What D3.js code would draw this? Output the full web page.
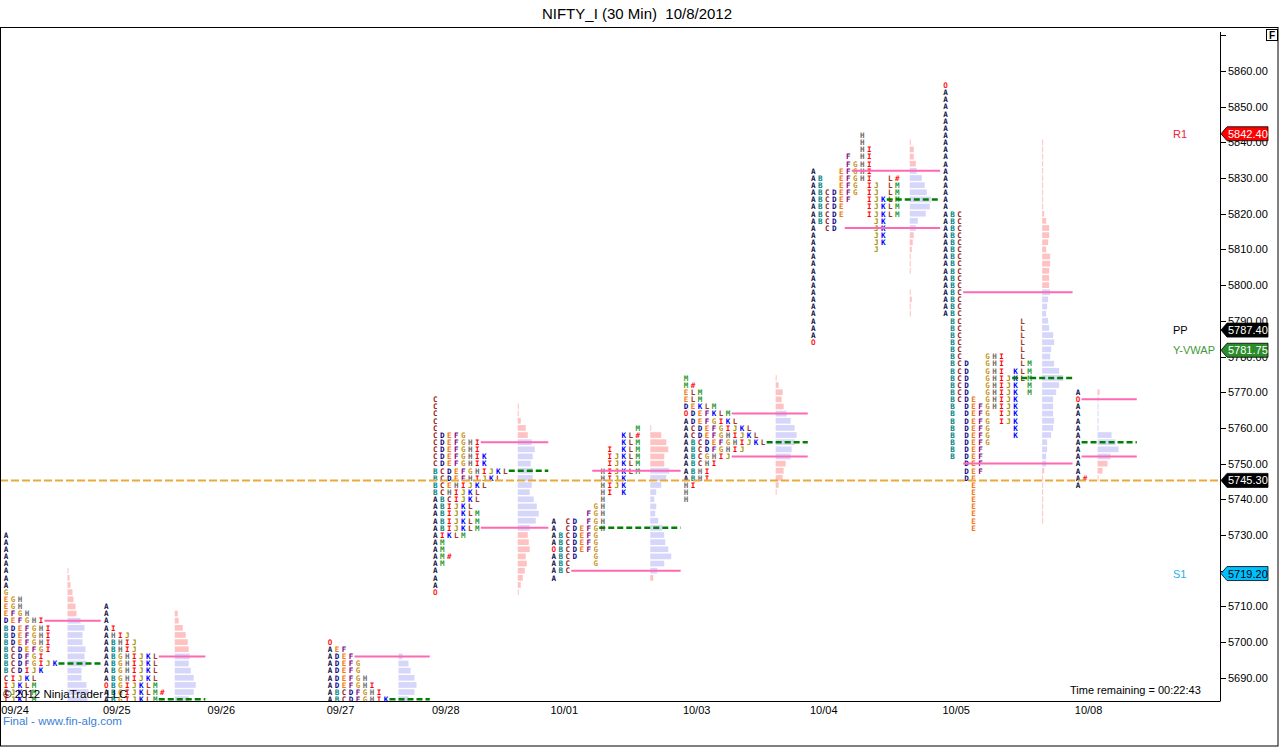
<!DOCTYPE html>
<html><head><meta charset="utf-8">
<script src="https://cdn.jsdelivr.net/npm/d3@7"></script>
<style>body{margin:0;background:#fff}svg{display:block}</style>
</head><body>
<svg id="c" width="1280" height="747"></svg>
<script>
// ---------------- DATA ----------------
const title = "NIFTY_I (30 Min)  10/8/2012";
const dayLabels = ["09/24","09/25","09/26","09/27","09/28","10/01","10/03","10/04","10/05","10/08"];
const dayBarPos = [0,16.2,32,50,65.9,83.8,103.8,123,143,163];   // 30-min bar index of each session start
const sessionEndPos = 172.7;
const priceTicks = d3.range(5690, 5861, 10);
const topTick = 5870;

// TPO rows (top row first, 2-point rows)
const tpo0924 = ["A","A","A","A","A","A","A","A","G","EGH","EGH","EFGH","DEFGHI","BDEFGHI","BDEFGHI","BDEFGHI","BCDEFGI","BCDFGI","BCDFGIJK","BCDIJK","CIJKL","IJKLM","IJKLM","IJKLM"];
const tpo0925 = ["A","A","A","AI","AHIJ","ABHIJ","ABHIJ","ABGHIJKL","ABGHIJKL","ABGHIJKL","ABGHIJKL","OBGIJKLM","ABGIJKLM#","ABGIJKLM"];
const tpo0927 = ["O","AEF","ADEF","ADEFG","ADEFG","ADEFGH","ADEFGHI","ABCDFGHI","ABCDFGHIK"];
const tpo0928 = ["C","C","C","C","C","CDEFG","CDEFGHI","CDEFGHI","CDEFGHIK","CDEFGHIK","BCDEFGHIJKL","BCDEFHIJKL","BCEHIJKL","BCHIJKL","ABCIJKL","ABIJKL","ABIJKLM","ABIJKLM","ABIJKLM","AIKLM","AM","AM","AM#","AM","A","A","A","O"];
const tpo1001 = ["M","KL#","KLM","IKLM","IJKLM","IJKLM","HIJKLM","HIJK","HIJK","HIK","H","GH","FGH","ACDFGH","ACDEFGH","ABCDEFG","ABCDEFG","OBCDEFG","ABCDG","ABCG","ABC","A"];
const tpo1003 = ["M","M#","ELM","ELM","DEKLM","ODEFKLM","ADEFGIKL","ACDEFGIJKL","ACDEFGHIJKL","ABCDEFGHIJKL","ABCDFGHIJ","ABCGHIJ","ABCHI","ABHI","ABHI","HI","H","H"];
const tpo1004 = ["H","H","HI","FHI","FGHI","AEFGHI","ABEFGHIL#","ABEFGIJLM","ABCDEFGIJLM","ABCDEFIJKLM","ABCDEIJKLM","ABCDEIJKLM","ABCDJK","ACDJK","AJK","AJK","AJ",
  "A","A","A","A","A","A","A","A","A","A","A","A","O"];
const tpo1005 = ["O","A","A","A","A","A","A","A","A","A","A","A","A","A","A","A","A","A",
  "ABC","ABC","ABC","ABC","ABC","ABC","ABC","ABC","ABC","ABC","ABC","ABC","ABC","ABC","ABC",
  "BCL","BCL","BCL","BCL","BCL","BCGHIL","BCDGHILM","BCDGHIKLM","BCDGHIJKLM","BCDGHIJKM","BCDGHIJKM","BCDEGHIJK","BDEFGHIJK","BDEFGIJK","BDEFGIJK","BDEFGK","BDEFGK","BDEFG","BDEF","BDEF","DEF","DEF","DE",
  "E","E","E","E","E","E","E"];
const tpo1008 = ["A","O","A","A","A","A","A","A","A","A","A","A","A#","A"];

const tpoTop     = [5730,5710,5700,5768,5760,5774,5842,5856,5770];
const spreadMode = [false,false,false,false,true,false,true,true,false];
const colOffset  = [1,0,0,0,0,0,0,0,0];   // 09/24 opening column lies left of the chart edge
const profileDay = [0,1,3,4,5,6,7,8,9];

// volume histogram (top row first)
const hist0924 = [1,2,3,5,6,8,9,13,17,15,15,18,17,19,14,14,19,21,20];
const hist0925 = [3,4,8,11,13,14,15,14,16,19,21,19,14];
const hist0927 = [4,10,12,16,18,16,10];
const hist0928 = [1,1,3,8,10,14,17,15,13,15,15,14,12,16,19,21,18,12,10,11,12,8,9,7,5,3,1];
const hist1001 = [1,11,16,18,14,14,19,16,11,6,4,6,5,8,12,14,15,18,21,14,7,3];
const hist1003 = [1,3,7,6,8,11,15,19,21,19,16,15,10,8,7,3,1];
const hist1004 = [1,4,4,6,7,12,15,17,21,20,16,8,6,4,3,2,1,1,1,0,0,1,2,1,1];
const hist1005 = [1,1,1,1,1,1,1,1,1,1,2,4,7,7,6,4,8,8,7,7,7,8,6,5,4,6,7,11,12,9,8,12,17,21,17,14,11,11,11,12,11,9,5,5,4,4,2,1,1,1,1,1,1,1];
const hist1008 = [2,1,1,1,1,1,14,18,21,13,10,5,1];
const histTop = [5720,5708,5696,5766,5760,5774,5840,5840,5770];

const vaHigh = [5706,5696,5696,5756,5748,5764,5832,5798,5768];
const pocLvl = [5694,5684,5684,5748,5732,5756,5824,5774,5756];
const vaLow  = [5680,5680,5680,5732,5720,5752,5816,5750,5752];

const levelNames  = ["R1","PP","Y-VWAP","S1"];
const levelValues = [5842.40,5787.40,5781.75,5719.20];
const lastPrice = 5745.30;

// ---------------- STYLE ----------------
const letterColor = {A:"#14144c",B:"#00868b",C:"#9b1c1c",D:"#0a0a8c",E:"#f07810",F:"#800080",G:"#c8961e",H:"#6e6e6e",I:"#ff0000",J:"#a09000",K:"#0000ff",L:"#a0382a",M:"#2e9a2e",O:"#ff2020","#":"#ff2020"};
const levelText = ["#f02040","#000000","#3f9a3a","#1cb0ee"];
const levelFill = ["#ff0000","#000000","#2a8c2a","#00bfff"];
const levelTextFill = ["#ffffff","#ffffff","#ffffff","#000000"];
const FONT = "'Liberation Sans', Arial, sans-serif";

const tpos = [tpo0924,tpo0925,tpo0927,tpo0928,tpo1001,tpo1003,tpo1004,tpo1005,tpo1008];
const hists = [hist0924,hist0925,hist0927,hist0928,hist1001,hist1003,hist1004,hist1005,hist1008];

// ---------------- CHART ----------------
const svg = d3.select("#c");
const PL=0, PR=1220, PT=27, PB=701;
const y = d3.scaleLinear().domain([5683.5,5872.3]).range([PB,PT]);
const x = d3.scaleLinear().domain([0,185]).range([-4.5,-4.5+185*6.62]);
const volW = d3.scaleLinear().domain([0,21]).range([0,21]);
const COLW = 7;

svg.append("rect").attr("width",1280).attr("height",747).attr("fill","#fff");
svg.append("defs").append("clipPath").attr("id","clip")
  .append("rect").attr("x",PL).attr("y",PT).attr("width",PR-PL).attr("height",PB-PT);

svg.append("text").attr("x",637).attr("y",19).attr("text-anchor","middle")
  .style("white-space","pre").attr("font-family",FONT).attr("font-size",15).attr("fill","#000").text(title);

const plot = svg.append("g").attr("clip-path","url(#clip)");

function cellsOf(row, spread){
  const out=[]; let prev=-1;
  for(const ch of row){
    let c;
    if(!spread) c = out.length;
    else if(ch==="O") c = 0;
    else if(ch==="#") c = prev+1;
    else c = ch.charCodeAt(0)-65;
    out.push({ch,c}); prev=c;
  }
  return out;
}

const lineLayer = [];
profileDay.forEach((day,k)=>{
  const dx = x(dayBarPos[day]);
  const off = colOffset[k];
  const rows = tpos[k].map((r,i)=>({price:tpoTop[k]-2*i, cells:cellsOf(r,spreadMode[k]), n:r.length}));
  const maxCols = d3.max(rows, r=>d3.max(r.cells,c=>c.c+1)) + off;
  const hx = dx + maxCols*COLW + 9;
  const g = plot.append("g");
  const hdata = hists[k].map((v,i)=>({v, price:histTop[k]-2*i})).filter(d=>d.v>0);
  g.selectAll("rect.h").data(hdata).join("rect")
    .attr("x",hx).attr("y",d=>y(d.price+0.8))
    .attr("width",d=>volW(d.v)).attr("height",d=>y(d.price-0.8)-y(d.price+0.8))
    .attr("fill",d=>(d.price<=vaHigh[k] && d.price>=vaLow[k]) ? "#d6d6fa" : "#ffc2c2");
  const cells = [];
  rows.forEach(r=>r.cells.forEach(c=>cells.push({ch:c.ch,c:c.c+off,price:r.price})));
  g.selectAll("text").data(cells).join("text")
    .attr("x",d=>dx + d.c*COLW + 3.5).attr("y",d=>y(d.price)+2.8)
    .attr("text-anchor","middle").attr("font-family","'DejaVu Sans Mono', monospace")
    .attr("font-weight","bold").attr("font-size",7.6)
    .attr("fill",d=>letterColor[d.ch]).text(d=>d.ch);
  const nextX = day+1 < dayBarPos.length ? x(dayBarPos[day+1]) : x(sessionEndPos);
  const countAt = p => { const r = rows.find(r=>r.price===p); return r ? r.n + off : 0; };
  lineLayer.push({x1:dx+countAt(vaHigh[k])*COLW, x2:nextX-2, p:vaHigh[k], t:"va"});
  lineLayer.push({x1:dx+countAt(vaLow[k])*COLW, x2:nextX-2, p:vaLow[k], t:"va"});
  lineLayer.push({x1:dx+countAt(pocLvl[k])*COLW, x2:nextX-2, p:pocLvl[k], t:"poc"});
});

plot.append("g").selectAll("line").data(lineLayer).join("line")
  .attr("x1",d=>d.x1).attr("x2",d=>d.x2).attr("y1",d=>y(d.p)).attr("y2",d=>y(d.p))
  .attr("stroke",d=>d.t==="va"?"#ff69b4":"#008000")
  .attr("stroke-width",d=>d.t==="va"?2:2.5)
  .attr("stroke-dasharray",d=>d.t==="va"?null:"6,3");

plot.append("line").attr("x1",PL).attr("x2",PR).attr("y1",y(lastPrice)).attr("y2",y(lastPrice))
  .attr("stroke","#e8aa3c").attr("stroke-width",2).attr("stroke-dasharray","8,3");

// frames
svg.append("rect").attr("x",0.5).attr("y",27.5).attr("width",1277.5).attr("height",718.5)
  .attr("fill","none").attr("stroke","#000");
svg.append("line").attr("x1",0).attr("x2",PR).attr("y1",PB+0.5).attr("y2",PB+0.5).attr("stroke","#000");
svg.append("line").attr("x1",PR+0.5).attr("x2",PR+0.5).attr("y1",32).attr("y2",PB+0.5).attr("stroke","#000");

// right axis
const ax = svg.append("g");
ax.selectAll("line.t").data(priceTicks.concat([topTick])).join("line")
  .attr("x1",PR).attr("x2",PR+6).attr("y1",d=>Math.round(y(d))+0.5).attr("y2",d=>Math.round(y(d))+0.5)
  .attr("stroke","#000");
ax.selectAll("text").data(priceTicks).join("text")
  .attr("x",PR+8).attr("y",d=>y(d)+4).attr("font-family",FONT).attr("font-size",11)
  .attr("fill","#000").text(d=>d3.format(".2f")(d));

// date labels
svg.append("g").selectAll("text").data(dayLabels).join("text")
  .attr("x",(d,i)=>Math.max(x(dayBarPos[i])+14, 15)).attr("y",714).attr("text-anchor","middle")
  .attr("font-family",FONT).attr("font-size",11).attr("fill","#000").text(d=>d);

// level labels and tags
function tag(v, fill, tfill){
  const yy = y(v);
  svg.append("path").attr("d",`M${PR+1},${yy} L${PR+7},${yy-7} L1268,${yy-7} L1268,${yy+7} L${PR+7},${yy+7} Z`)
    .attr("fill",fill).attr("stroke","#000").attr("stroke-width",0.8);
  svg.append("text").attr("x",PR+8).attr("y",yy+4).attr("font-family",FONT).attr("font-size",11)
    .attr("fill",tfill).text(d3.format(".2f")(v));
}
levelNames.forEach((n,i)=>{
  svg.append("text").attr("x",1173).attr("y",y(levelValues[i])+4).attr("font-family",FONT)
    .attr("font-size",11).attr("fill",levelText[i]).text(n);
  tag(levelValues[i], levelFill[i], levelTextFill[i]);
});
tag(lastPrice, "#000000", "#ffffff");

// F box
svg.append("rect").attr("x",1266.5).attr("y",29.5).attr("width",11).attr("height",11).attr("fill","#fff").attr("stroke","#000");
svg.append("text").attr("x",1272).attr("y",39).attr("text-anchor","middle").attr("font-family",FONT)
  .attr("font-weight","bold").attr("font-size",10).text("F");

// footer texts
svg.append("text").attr("x",3).attr("y",698).attr("font-family",FONT).attr("font-size",11.5).attr("fill","#000").text("© 2012 NinjaTrader LLC");
svg.append("text").attr("x",3).attr("y",725).attr("font-family",FONT).attr("font-size",11.5).attr("fill","#3b7fd4").text("Final - www.fin-alg.com");
svg.append("text").attr("x",1070).attr("y",694).attr("font-family",FONT).attr("font-size",11).attr("fill","#000").text("Time remaining = 00:22:43");
</script>
</body></html>
